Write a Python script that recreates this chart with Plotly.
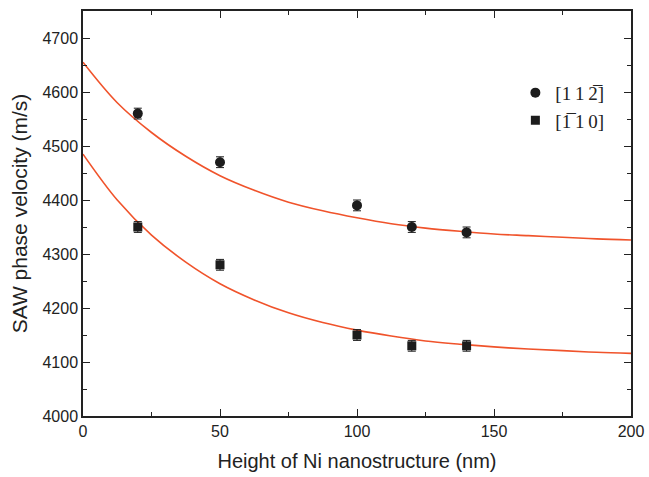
import plotly.graph_objects as go

# Measured data
height_nm = [20, 50, 100, 120, 140]
v_112 = [4560, 4470, 4390, 4350, 4340]
v_110 = [4350, 4280, 4150, 4130, 4130]
err_112 = [10, 10, 10, 10, 10]
err_110 = [10, 10, 10, 10, 10]

# Fit curves
fit_x = [0, 12.5, 25, 37.5, 50, 62.5, 75, 87.5, 100, 112.5, 125, 137.5, 150, 162.5, 175, 187.5, 200]
fit_112 = [4655, 4580, 4525, 4481, 4445, 4418, 4396, 4380, 4367, 4356, 4348, 4342, 4337, 4334, 4331, 4328, 4326]
fit_110 = [4485, 4400, 4335, 4285, 4245, 4215, 4191, 4173, 4159, 4148, 4139, 4133, 4128, 4124, 4121, 4118, 4116]

label_112 = "[1\u20091\u20092\u0305]"
label_110 = "[1\u0305\u20091\u20090]"

fit_color = "#F0532B"
mk_color = "#1c1c1c"

fig = go.Figure()
fig.add_trace(go.Scatter(x=fit_x, y=fit_112, mode="lines", line=dict(color=fit_color, width=1.6, shape="spline"),
                         showlegend=False, hoverinfo="skip"))
fig.add_trace(go.Scatter(x=fit_x, y=fit_110, mode="lines", line=dict(color=fit_color, width=1.6, shape="spline"),
                         showlegend=False, hoverinfo="skip"))
fig.add_trace(go.Scatter(x=height_nm, y=v_112, mode="markers", name=label_112,
                         marker=dict(symbol="circle", size=10, color=mk_color),
                         error_y=dict(type="data", array=err_112, color=mk_color, thickness=1, width=4)))
fig.add_trace(go.Scatter(x=height_nm, y=v_110, mode="markers", name=label_110,
                         marker=dict(symbol="square", size=9, color=mk_color),
                         error_y=dict(type="data", array=err_110, color=mk_color, thickness=1, width=4)))

axis_common = dict(showline=True, linecolor="#222", linewidth=1.5, mirror="allticks",
                   ticks="inside", ticklen=7, tickwidth=1.2, tickcolor="#222",
                   showgrid=False, zeroline=False, automargin=False,
                   tickfont=dict(family="Liberation Sans, Arial", size=16, color="#222"))

fig.update_xaxes(range=[0, 200], dtick=50, tick0=0,
                 minor=dict(ticks="inside", ticklen=4, dtick=25, tickcolor="#222", tickwidth=1.2, showgrid=False),
                 title=dict(text="Height of Ni nanostructure (nm)", font=dict(family="Liberation Sans, Arial", size=20, color="#222"), standoff=15),
                 **axis_common)
fig.update_yaxes(range=[4000, 4750], dtick=100, tick0=4000,
                 minor=dict(ticks="inside", ticklen=4, dtick=50, tickcolor="#222", tickwidth=1.2, showgrid=False),
                 title=dict(text="SAW phase velocity (m/s)", font=dict(family="Liberation Sans, Arial", size=21, color="#222"), standoff=9),
                 **axis_common)

fig.update_layout(width=649, height=477, margin=dict(l=83, r=18, t=11, b=61),
                  plot_bgcolor="white", paper_bgcolor="white",
                  legend=dict(x=0.789, y=0.845, xanchor="left", yanchor="top", bgcolor="rgba(0,0,0,0)",
                              font=dict(family="Liberation Serif, Times New Roman", size=19, color="#222"),
                              itemwidth=30, tracegroupgap=0))

fig.write_html("out.html")
